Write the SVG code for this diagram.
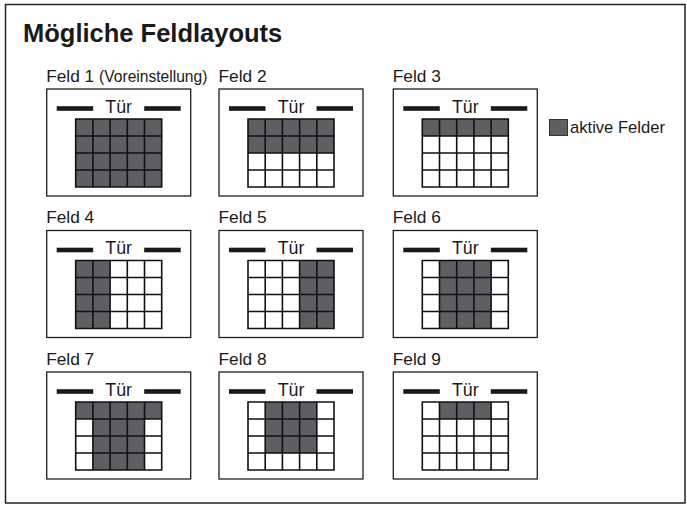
<svg xmlns="http://www.w3.org/2000/svg" xmlns:xlink="http://www.w3.org/1999/xlink" width="687" height="507" viewBox="0 0 687 507">
<style>
text{font-family:"Liberation Sans",Arial,sans-serif;fill:#1a1a1a}
.title{font-size:25.5px;font-weight:bold}
.lbl{font-size:17.3px}
.small{font-size:15.6px}
.door{font-size:17.8px;text-anchor:middle}
.box{fill:#fff;stroke:#1e1e1e;stroke-width:1.3}
.bar{fill:#1a1a1a}
.gbg{fill:#fff}
.on{fill:#5f5f63}
.grid{fill:none;stroke:#111;stroke-width:1.6}
</style>
<defs>
<g id="head">
<rect class="box" x="0" y="0" width="144" height="107"/>
<rect class="bar" x="10" y="17.2" width="36.5" height="4.6"/>
<rect class="bar" x="97.5" y="17.2" width="36.5" height="4.6"/>
<text class="door" x="72" y="23.7">Tür</text>
<rect class="gbg" x="29" y="30" width="86" height="68"/>
</g>
<path id="grid" class="grid" d="M0,0H86V68H0Z M17.2,0V68 M34.4,0V68 M51.6,0V68 M68.8,0V68 M0,17H86 M0,34H86 M0,51H86"/>
</defs>
<rect x="5.5" y="4.5" width="679.5" height="498.5" fill="#fff" stroke="#222" stroke-width="1.5"/>
<text class="title" x="23" y="42">Mögliche Feldlayouts</text>
<g id="connectors"/>
<g id="feld1" transform="translate(46.7,89)">
<text class="lbl" x="-0.5" y="-7.3">Feld 1 <tspan class="small">(Voreinstellung)</tspan></text>
<use xlink:href="#head"/>
<g transform="translate(29,30)"><rect class="on" x="0" y="0" width="86" height="68"/><use xlink:href="#grid"/></g>
</g>
<g id="feld2" transform="translate(219,89)">
<text class="lbl" x="-0.5" y="-7.3">Feld 2</text>
<use xlink:href="#head"/>
<g transform="translate(29,30)"><rect class="on" x="0" y="0" width="86" height="34"/><use xlink:href="#grid"/></g>
</g>
<g id="feld3" transform="translate(393.3,89)">
<text class="lbl" x="-0.5" y="-7.3">Feld 3</text>
<use xlink:href="#head"/>
<g transform="translate(29,30)"><rect class="on" x="0" y="0" width="86" height="17"/><use xlink:href="#grid"/></g>
</g>
<g id="feld4" transform="translate(46.7,230.5)">
<text class="lbl" x="-0.5" y="-7.3">Feld 4</text>
<use xlink:href="#head"/>
<g transform="translate(29,30)"><rect class="on" x="0" y="0" width="34.4" height="68"/><use xlink:href="#grid"/></g>
</g>
<g id="feld5" transform="translate(219,230.5)">
<text class="lbl" x="-0.5" y="-7.3">Feld 5</text>
<use xlink:href="#head"/>
<g transform="translate(29,30)"><rect class="on" x="51.6" y="0" width="34.4" height="68"/><use xlink:href="#grid"/></g>
</g>
<g id="feld6" transform="translate(393.3,230.5)">
<text class="lbl" x="-0.5" y="-7.3">Feld 6</text>
<use xlink:href="#head"/>
<g transform="translate(29,30)"><rect class="on" x="17.2" y="0" width="51.6" height="68"/><use xlink:href="#grid"/></g>
</g>
<g id="feld7" transform="translate(46.7,372)">
<text class="lbl" x="-0.5" y="-7.3">Feld 7</text>
<use xlink:href="#head"/>
<g transform="translate(29,30)"><rect class="on" x="0" y="0" width="86" height="17"/><rect class="on" x="17.2" y="17" width="51.6" height="51"/><use xlink:href="#grid"/></g>
</g>
<g id="feld8" transform="translate(219,372)">
<text class="lbl" x="-0.5" y="-7.3">Feld 8</text>
<use xlink:href="#head"/>
<g transform="translate(29,30)"><rect class="on" x="17.2" y="0" width="51.6" height="51"/><use xlink:href="#grid"/></g>
</g>
<g id="feld9" transform="translate(393.3,372)">
<text class="lbl" x="-0.5" y="-7.3">Feld 9</text>
<use xlink:href="#head"/>
<g transform="translate(29,30)"><rect class="on" x="17.2" y="0" width="51.6" height="17"/><use xlink:href="#grid"/></g>
</g>
<g id="legend">
<rect class="on" x="549.5" y="119.5" width="18" height="16" stroke="#333" stroke-width="1"/>
<text class="lbl" x="570" y="133" style="font-size:16.6px">aktive Felder</text>
</g>
</svg>
